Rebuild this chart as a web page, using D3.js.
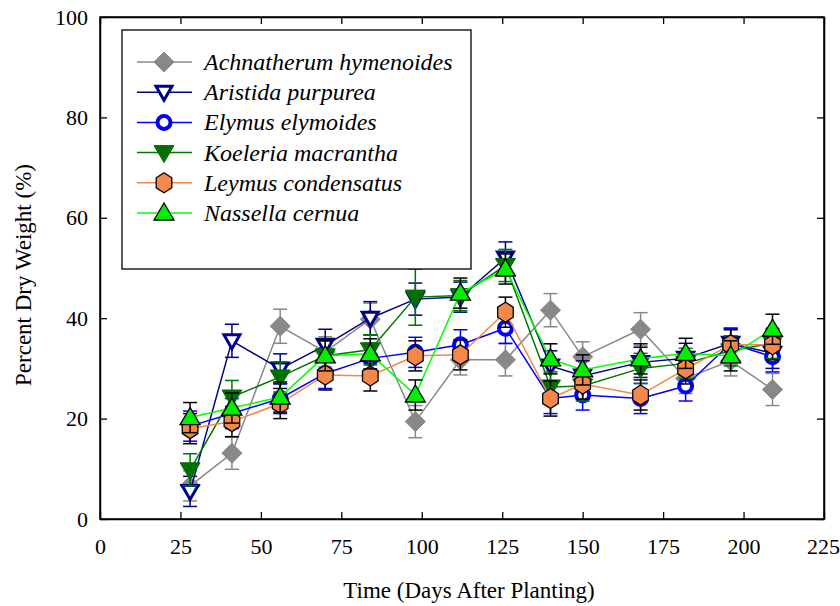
<!DOCTYPE html>
<html><head><meta charset="utf-8">
<script src="https://cdn.jsdelivr.net/npm/d3@7"></script>
<style>body{margin:0;background:#fff}svg{display:block}</style>
</head><body><svg id="c" width="840" height="606"></svg>
<script>
const days = [28, 41, 56, 70, 84, 98, 112, 126, 140, 150, 168, 182, 196, 209];
const xTicks = [0, 25, 50, 75, 100, 125, 150, 175, 200, 225];
const yTicks = [0, 20, 40, 60, 80, 100];
const speciesNames = ["Achnatherum hymenoides","Aristida purpurea","Elymus elymoides","Koeleria macrantha","Leymus condensatus","Nassella cernua"];
const achnatherum = [6.6, 13.1, 38.4, 33.3, 39.8, 19.4, 31.7, 31.7, 41.6, 32.3, 37.8, 28.0, 31.5, 25.8];
const achnatherumErr = [3, 3.2, 3.4, 3, 3.2, 3.2, 3, 3.2, 3.3, 3, 3.3, 3, 3, 3.2];
const aristida = [5.5, 35.5, 29.9, 34.6, 40.0, 43.8, 44.2, 52.0, 30.5, 28.5, 31.2, 32.0, 35.0, 33.0];
const aristidaErr = [3, 3.3, 3, 3.2, 3.3, 3.2, 3, 3.2, 3, 3, 3, 3, 3, 3];
const elymus = [18.5, 21.0, 24.0, 29.0, 32.0, 33.2, 34.7, 38.0, 24.0, 24.7, 24.0, 26.5, 35.0, 32.3];
const elymusErr = [3, 3, 3, 3, 3, 3, 3, 3, 3, 3, 3, 3, 3, 3];
const koeleria = [9.8, 24.3, 28.3, 32.5, 33.7, 44.2, 44.5, 50.5, 26.3, 26.5, 30.0, 31.0, 33.5, 35.0];
const koeleriaErr = [3.2, 3.3, 3, 3, 3, 5.6, 3, 3.2, 3, 3, 3, 3, 3, 3];
const leymus = [18.0, 19.4, 23.0, 28.7, 28.5, 32.5, 32.7, 41.2, 24.0, 26.9, 24.7, 29.9, 34.7, 34.7];
const leymusErr = [3, 3, 3, 3, 3, 3, 3, 3, 3.5, 3, 3, 3, 3, 3];
const nassella = [20.2, 22.1, 24.3, 32.5, 32.9, 24.7, 45.0, 49.8, 31.9, 29.7, 31.9, 33.0, 32.5, 37.8];
const nassellaErr = [3, 3, 3, 3, 3, 3, 3, 3, 3, 3, 3, 3, 3, 3];

const series = [
  {name: speciesNames[0], v: achnatherum, e: achnatherumErr, line: "#888888", err: "#888888", shape: "diamond", fill: "#888888", stroke: "#888888", sw: 1},
  {name: speciesNames[1], v: aristida, e: aristidaErr, line: "#00008b", err: "#00008b", shape: "tridown", fill: "#ffffff", stroke: "#00008b", sw: 3},
  {name: speciesNames[2], v: elymus, e: elymusErr, line: "#0000ff", err: "#0000ff", shape: "circle", fill: "#ffffff", stroke: "#0000ff", sw: 4},
  {name: speciesNames[3], v: koeleria, e: koeleriaErr, line: "#007800", err: "#007800", shape: "tridownfill", fill: "#007000", stroke: "#007000", sw: 1},
  {name: speciesNames[4], v: leymus, e: leymusErr, line: "#f4874b", err: "#000000", shape: "hexagon", fill: "#f4874b", stroke: "#000000", sw: 1.3},
  {name: speciesNames[5], v: nassella, e: nassellaErr, line: "#00ff00", err: "#000000", shape: "triup", fill: "#00ee00", stroke: "#000000", sw: 1.3}
];

const svg = d3.select("#c");
const L = 100, R = 824, T = 17, B = 519;
const x = d3.scaleLinear().domain([0, 225]).range([L, R]);
const y = d3.scaleLinear().domain([0, 100]).range([B, T]);
const font = "'Liberation Serif','Times New Roman',serif";

function shapePath(shape) {
  switch (shape) {
    case "diamond": return "M0,-10L10,0L0,10L-10,0Z";
    case "tridown": return "M-8,-6L8,-6L0,8Z";
    case "tridownfill": return "M-10,-7L10,-7L0,10Z";
    case "triup": return "M0,-10L10,7L-10,7Z";
    case "circle": return d3.symbol().type(d3.symbolCircle).size(Math.PI*42)();
    case "hexagon": {
      const r = 10, pts = [];
      for (let i = 0; i < 6; i++) { const a = Math.PI/6 + i*Math.PI/3; pts.push([r*Math.cos(a)*0.9, r*Math.sin(a)]); }
      return "M" + pts.map(p => p.join(",")).join("L") + "Z";
    }
  }
}

svg.append("rect").attr("x", L).attr("y", T).attr("width", R-L).attr("height", B-T)
  .attr("fill", "none").attr("stroke", "#000").attr("stroke-width", 1.5);

const axB = svg.append("g").attr("transform", `translate(0,${B})`)
  .call(d3.axisBottom(x).tickValues(xTicks).tickSizeInner(-7).tickSizeOuter(0).tickPadding(19));
const axL = svg.append("g").attr("transform", `translate(${L},0)`)
  .call(d3.axisLeft(y).tickValues(yTicks).tickSizeInner(-7).tickSizeOuter(0).tickPadding(12));
const axT = svg.append("g").attr("transform", `translate(0,${T})`)
  .call(d3.axisTop(x).tickValues(xTicks).tickSizeInner(-7).tickSizeOuter(0).tickFormat(""));
const axR = svg.append("g").attr("transform", `translate(${R},0)`)
  .call(d3.axisRight(y).tickValues(yTicks).tickSizeInner(-7).tickSizeOuter(0).tickFormat(""));
[axB, axL, axT, axR].forEach(g => {
  g.select(".domain").attr("stroke", "#000").attr("stroke-width", 1.5);
  g.selectAll(".tick line").attr("stroke", "#000").attr("stroke-width", 1.3);
  g.selectAll("text").attr("font-family", font).attr("font-size", 22).attr("fill", "#000");
});
axB.selectAll(".tick text").filter(d => d === 225).attr("dx", -1);

svg.append("text").attr("x", 469).attr("y", 598).attr("text-anchor", "middle")
  .attr("font-family", font).attr("font-size", 23).text("Time (Days After Planting)");
svg.append("text").attr("transform", `translate(31,${(T+B)/2+7}) rotate(-90)`).attr("text-anchor", "middle")
  .attr("font-family", font).attr("font-size", 23).text("Percent Dry Weight (%)");

const lg = svg.append("g");
lg.append("rect").attr("x", 122).attr("y", 30).attr("width", 349).attr("height", 239)
  .attr("fill", "#fff").attr("stroke", "#000").attr("stroke-width", 1.3);

const line = d3.line().x((d, i) => x(days[i])).y(d => y(d));
const plot = svg.append("g");
series.forEach(s => {
  const g = plot.append("g");
  g.append("path").datum(s.v).attr("d", line).attr("fill", "none").attr("stroke", s.line).attr("stroke-width", 1.5);
  const eb = g.selectAll("g.eb").data(s.v).enter().append("g").attr("stroke", s.err).attr("stroke-width", 1.5);
  eb.append("line").attr("x1", (d, i) => x(days[i])).attr("x2", (d, i) => x(days[i]))
    .attr("y1", (d, i) => y(d - s.e[i])).attr("y2", (d, i) => y(d + s.e[i]));
  eb.append("line").attr("x1", (d, i) => x(days[i]) - 7).attr("x2", (d, i) => x(days[i]) + 7)
    .attr("y1", (d, i) => y(d + s.e[i])).attr("y2", (d, i) => y(d + s.e[i]));
  eb.append("line").attr("x1", (d, i) => x(days[i]) - 7).attr("x2", (d, i) => x(days[i]) + 7)
    .attr("y1", (d, i) => y(d - s.e[i])).attr("y2", (d, i) => y(d - s.e[i]));
  g.selectAll("path.m").data(s.v).enter().append("path").attr("class", "m")
    .attr("d", shapePath(s.shape))
    .attr("transform", (d, i) => `translate(${x(days[i])},${y(d)})`)
    .attr("fill", s.fill).attr("stroke", s.stroke).attr("stroke-width", s.sw);
});

const ly0 = 62, ldy = 30.2;
series.forEach((s, k) => {
  const yy = ly0 + k*ldy;
  lg.append("line").attr("x1", 137).attr("x2", 192).attr("y1", yy).attr("y2", yy).attr("stroke", s.line).attr("stroke-width", 1.5);
  lg.append("path").attr("d", shapePath(s.shape)).attr("transform", `translate(164,${yy})`)
    .attr("fill", s.fill).attr("stroke", s.stroke).attr("stroke-width", s.sw);
  lg.append("text").attr("x", 204).attr("y", yy + 8).attr("font-family", font).attr("font-style", "italic")
    .attr("font-size", 24).text(s.name);
});
lg.raise();
</script></body></html>
